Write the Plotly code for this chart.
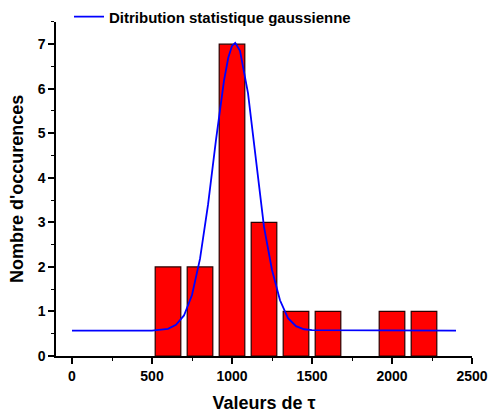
import plotly.graph_objects as go

# Histogram data
bin_centers = [600, 800, 1000, 1200, 1400, 1600, 2000, 2200]
counts = [2, 2, 7, 3, 1, 1, 1, 1]
bar_width = 160

# Gaussian curve
gauss_x = [0, 500, 600, 650, 700, 750, 800, 850, 900, 950, 977, 1000, 1020, 1050,
           1100, 1150, 1200, 1250, 1300, 1350, 1400, 1450, 1500, 2400]
gauss_y = [0.57, 0.57, 0.61, 0.70, 0.91, 1.37, 2.18, 3.39, 4.85, 6.18, 6.70, 6.96, 7.03, 6.85,
           5.90, 4.40, 2.90, 1.93, 1.25, 0.85, 0.67, 0.60, 0.58, 0.57]

x_ticks = [0, 500, 1000, 1500, 2000, 2500]
y_ticks = [0, 1, 2, 3, 4, 5, 6, 7]

FONT = "Liberation Sans, Arial, sans-serif"

H = 415
B = 59
plot_h = H - B  # area between top edge and bottom margin
top_px = 20

fig = go.Figure()
fig.add_trace(go.Bar(
    x=bin_centers, y=counts, width=bar_width,
    marker=dict(color="#ff0000", line=dict(color="#2a0000", width=1.2)),
    showlegend=False,
))
fig.add_trace(go.Scatter(
    x=gauss_x, y=gauss_y, mode="lines",
    line=dict(color="#0000ff", width=1.8),
    name="<b>Ditribution statistique gaussienne</b>",
))

fig.update_layout(
    width=490, height=H,
    margin=dict(l=56, r=18, t=0, b=B),
    plot_bgcolor="white", paper_bgcolor="white",
    font=dict(family=FONT, color="black"),
    legend=dict(x=13 / 416, y=(plot_h - 15) / plot_h,
                xanchor="left", yanchor="middle",
                font=dict(size=15, family=FONT), bgcolor="rgba(0,0,0,0)",
                itemwidth=30),
    xaxis=dict(
        range=[-100, 2500], tickvals=x_ticks, ticktext=[f"<b>{v}</b>" for v in x_ticks],
        showgrid=False, zeroline=False, automargin=False,
        showline=True, linecolor="black", linewidth=1.5,
        ticks="outside", ticklen=6, tickwidth=1.5, tickcolor="black",
        minor=dict(dtick=250, tick0=0, ticks="outside", ticklen=3, tickwidth=1, tickcolor="black"),
        tickfont=dict(size=14, family=FONT),
        title=dict(text="<b>Valeurs de τ</b>", font=dict(size=18, family=FONT), standoff=14),
    ),
    yaxis=dict(
        range=[0, 7.5], tickvals=y_ticks, ticktext=[f"<b>{v}</b>" for v in y_ticks],
        domain=[0, (plot_h - top_px) / plot_h],
        showgrid=False, zeroline=False, automargin=False,
        showline=True, linecolor="black", linewidth=1.5,
        ticks="outside", ticklen=6, tickwidth=1.5, tickcolor="black",
        minor=dict(dtick=0.5, tick0=0, ticks="outside", ticklen=3, tickwidth=1, tickcolor="black"),
        tickfont=dict(size=14, family=FONT),
        title=dict(text="<b>Nombre d'occurences</b>", font=dict(size=18, family=FONT), standoff=9),
    ),
)

fig.write_html("out.html", config={"displayModeBar": False},
               post_script="document.body.style.margin='0';")
